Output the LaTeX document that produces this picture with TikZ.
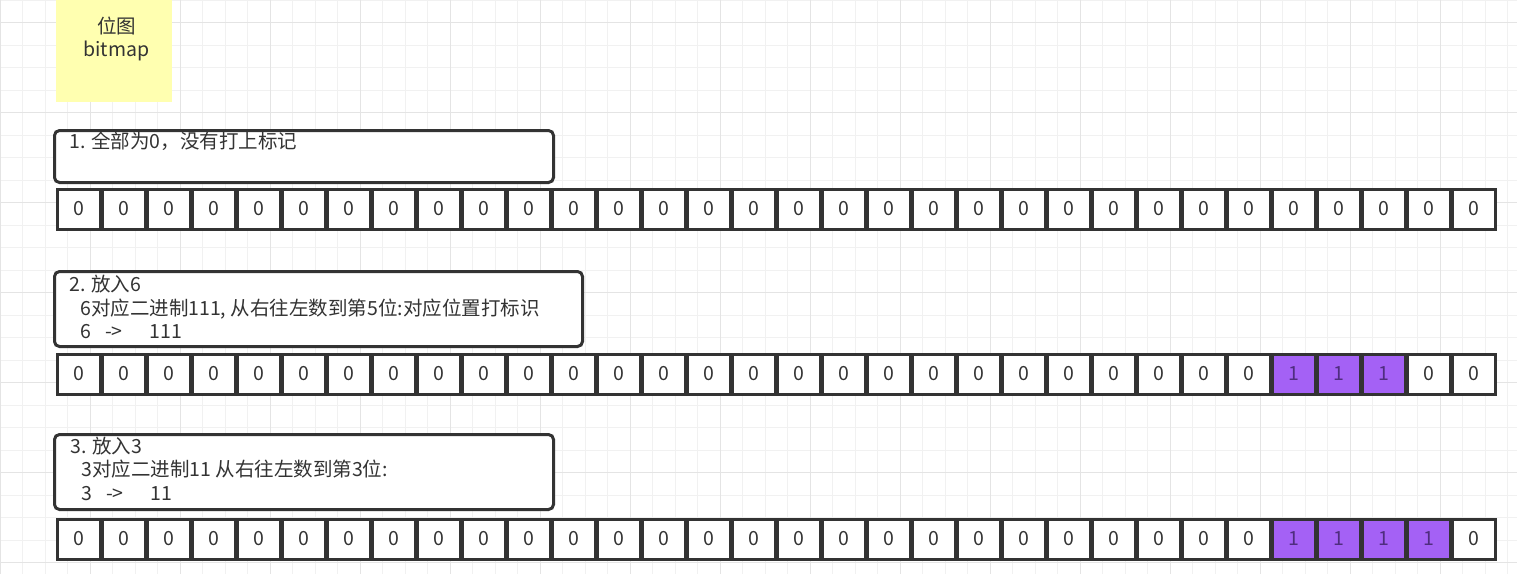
\documentclass[tikz,border=0pt]{standalone}
\usepackage{fontspec}
\setmainfont{Noto Sans CJK SC}
\definecolor{txt}{HTML}{333333}
\definecolor{brd}{HTML}{333333}
\definecolor{gminor}{HTML}{F1F1F1}
\definecolor{gmajor}{HTML}{E4E4E4}
\definecolor{sticky}{HTML}{FFFFB0}
\definecolor{bitpurple}{HTML}{A461F5}
\definecolor{bitone}{HTML}{4F2D7F}
\begin{document}
\begin{tikzpicture}[x=1pt,y=-1pt,
  cell/.style={draw=brd,line width=3pt,fill=white,minimum width=43pt,minimum height=40pt,inner sep=0pt,text=txt,font=\fontsize{19.5}{23}\selectfont},
  oncell/.style={cell,fill=bitpurple,text=bitone},
  notebox/.style={draw=brd,line width=3pt,fill=white,rounded corners=5pt,anchor=north west,inner sep=0pt},
  txtline/.style={anchor=base west,inner sep=0pt,text=txt,font=\fontsize{19.5}{23.5}\selectfont},
  gridminor/.style={draw=gminor,line width=1pt},
  gridmajor/.style={draw=gmajor,line width=1pt}]
\useasboundingbox (0,0) rectangle (1517,574);
\fill[white] (0,0) rectangle (1517,574);
% background grid
\foreach \x in {0,22.5,...,1517} \draw[gridminor] (\x,0) -- (\x,574);
\foreach \y in {0,22.5,...,574} \draw[gridminor] (0,\y) -- (1517,\y);
\foreach \x in {0,90,...,1517} \draw[gridmajor] (\x,0) -- (\x,574);
\foreach \y in {22.5,112.5,...,574} \draw[gridmajor] (0,\y) -- (1517,\y);
% sticky note
\node[fill=sticky,minimum width=116pt,minimum height=102pt,anchor=north west,inner sep=0pt] (sticky) at (56,0) {};
\node[anchor=base,inner sep=0pt,text=txt,font=\fontsize{19.5}{23.5}\selectfont] (stickyA) at (116.5,33) {位图};
\node[anchor=base,inner sep=0pt,text=txt,font=\fontsize{19.5}{23.5}\selectfont] (stickyB) at (116.5,56) {bitmap};
% note boxes
\node[notebox,minimum width=499pt,minimum height=52pt] (n1) at (53,129) {};
\node[notebox,minimum width=528pt,minimum height=75pt] (n2) at (53,270) {};
\node[notebox,minimum width=499pt,minimum height=75pt] (n3) at (53,433) {};
\node[txtline] (t1) at (69,148) {1. 全部为0，没有打上标记};
\node[txtline] (t2a) at (69,291.5) {2. 放入6};
\node[txtline] (t2b) at (80,315.5) {6对应二进制111, 从右往左数到第5位:对应位置打标识};
\node[txtline] (t2c) at (80,338.5) {6\hspace{14pt}->\hspace{27pt}111};
\node[txtline] (t3a) at (70,453) {3. 放入3};
\node[txtline] (t3b) at (81,476.5) {3对应二进制11 从右往左数到第3位:};
\node[txtline] (t3c) at (81,500) {3\hspace{14pt}->\hspace{27pt}11};
% bit rows
\foreach \i in {0,...,31} \node[cell] (a\i) at ({78.5+45*\i},209) {0};
\foreach \i in {0,...,26,30,31} \node[cell] (b\i) at ({78.5+45*\i},374) {0};
\foreach \i in {27,28,29} \node[oncell] (b\i) at ({78.5+45*\i},374) {1};
\foreach \i in {0,...,26,31} \node[cell] (c\i) at ({78.5+45*\i},539) {0};
\foreach \i in {27,...,30} \node[oncell] (c\i) at ({78.5+45*\i},539) {1};
\end{tikzpicture}
\end{document}
